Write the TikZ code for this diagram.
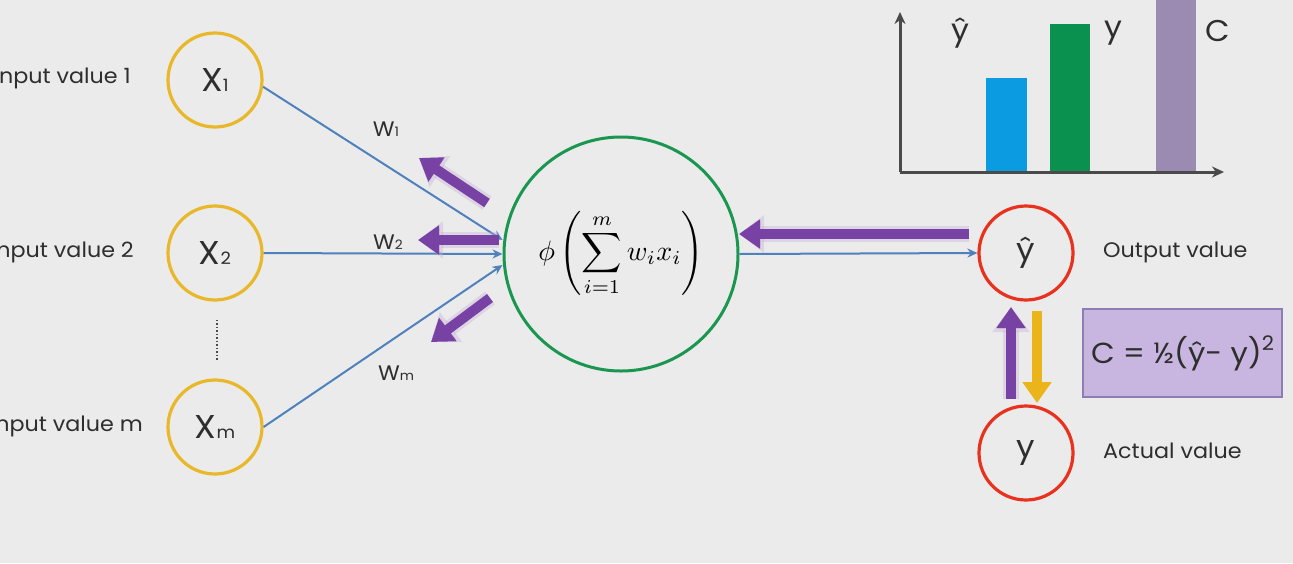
\documentclass[tikz,border=0pt]{standalone}
\usepackage{graphicx}
\usepackage{fontspec}
\setmainfont{Poppins}[FakeStretch=1.06]
\usetikzlibrary{arrows.meta,calc}
\definecolor{bg}{HTML}{EBEBEB}
\definecolor{ycol}{HTML}{E9B82A}
\definecolor{gcol}{HTML}{1A9650}
\definecolor{wblue}{HTML}{4F81BD}
\definecolor{rcol}{HTML}{E8321E}
\definecolor{pcol}{HTML}{7842A4}
\definecolor{yarr}{HTML}{EBB41A}
\definecolor{boxfill}{HTML}{C9B6E0}
\definecolor{boxline}{HTML}{8E7CB6}
\definecolor{axcol}{HTML}{4A4A4A}
\definecolor{txt}{HTML}{2E2E2E}
\definecolor{barblue}{HTML}{0A9BE0}
\definecolor{bargreen}{HTML}{0A9150}
\definecolor{barpurple}{HTML}{9B8BB3}
\newcommand{\smallsub}[1]{{\fontsize{17}{17}\selectfont #1}}
\newcommand{\wsub}[1]{{\fontsize{13}{13}\selectfont #1}}
\begin{document}
\begin{tikzpicture}[x=1pt,y=-1pt,
  incirc/.style={circle, draw=ycol, line width=3.2pt, minimum size=94pt, inner sep=0pt, font=\fontsize{33}{33}\selectfont, text=txt},
  outcirc/.style={circle, draw=rcol, line width=3.2pt, minimum size=94pt, inner sep=0pt, font=\fontsize{31}{31}\selectfont, text=txt},
  lbl/.style={font=\fontsize{21}{24}\selectfont, text=txt, inner sep=0pt},
  wlbl/.style={font=\fontsize{21}{24}\selectfont, text=txt, inner sep=0pt},
  wire/.style={draw=wblue, line width=2pt, -{Stealth[length=10pt,width=9pt]}},
  back/.style={draw=pcol, line width=10pt, -{Triangle[length=21pt,width=28pt]}},
  glow/.style={draw=pcol!45, opacity=0.35, line width=16pt, -{Triangle[length=25pt,width=36pt]}},
  ydown/.style={draw=yarr, line width=10pt, -{Triangle[length=21pt,width=28pt]}},
  axis/.style={draw=axcol, line width=3pt, -{Stealth[length=12pt,width=11pt]}},
  chlbl/.style={font=\fontsize{30}{30}\selectfont, text=txt, inner sep=0pt}
]
\useasboundingbox (0,0) rectangle (1293,563);
\fill[bg] (0,0) rectangle (1293,563);

% input nodes
\node[incirc] (x1) at (215,80) {X\smallsub{1}};
\node[incirc] (x2) at (215,253) {X\smallsub{2}};
\node[incirc] (xm) at (215,427) {X\smallsub{m}};
\coordinate (d1) at ($(x2.south)+(2,18)$);
\coordinate (d2) at ($(xm.north)+(2,-17)$);
\draw[axcol, line width=1.5pt, dotted] (d1) -- (d2);

\node[lbl, anchor=east] (l1) at (131,78) {Input value 1};
\node[lbl, anchor=east] (l2) at (134,252) {Input value 2};
\node[lbl, anchor=east] (lm) at (143,426) {Input value m};

% neuron
\node[circle, draw=gcol, line width=3pt, minimum size=234pt, inner sep=0pt, font=\fontsize{10}{12}\selectfont] (sum) at (621,254)
  {\scalebox{2.8}{$\displaystyle \phi\left(\sum_{i=1}^{m} w_i x_i\right)$}};

% wires
\coordinate (s1) at ([yshift=14pt]sum.west);
\coordinate (s2) at (sum.west);
\coordinate (sm) at ([yshift=-11pt]sum.west);
\draw[wire] (x1.-8) -- (s1);
\draw[wire] (x2.east) -- (s2);
\draw[wire] (xm.east) -- (sm);

\node[wlbl] (w1) at (386,129) {W\wsub{1}};
\node[wlbl] (w2) at (388,242) {W\wsub{2}};
\node[wlbl] (wm) at (396,373) {W\wsub{m}};

% output nodes
\node[outcirc] (yhat) at (1026,253) {ŷ};
\node[outcirc] (yact) at (1026,453) {y};
\draw[wire] (sum.east) -- (yhat.west);

\node[lbl, anchor=west] (ol) at (1103,252) {Output value};
\node[lbl, anchor=west] (al) at (1103,451) {Actual value};

% back-propagation arrows
\coordinate (b1s) at (487,203); \coordinate (b1e) at (419,158);
\coordinate (b2s) at (499,240); \coordinate (b2e) at (418,240);
\coordinate (b3s) at (490,298); \coordinate (b3e) at (431,342);
\coordinate (b4s) at (969,234); \coordinate (b4e) at (739,234);
\coordinate (u1s) at (1011,399); \coordinate (u1e) at (1011,307);
\coordinate (d1s) at (1037,311); \coordinate (d1e) at (1037,403);
\foreach \s/\e in {b1s/b1e,b2s/b2e,b3s/b3e,b4s/b4e,u1s/u1e}{
  \draw[glow] (\s) -- (\e);
}
\draw[back] (b1s) -- (b1e);
\draw[back] (b2s) -- (b2e);
\draw[back] (b3s) -- (b3e);
\draw[back] (b4s) -- (b4e);
\draw[back] (u1s) -- (u1e);
\draw[ydown] (d1s) -- (d1e);

% cost box
\node[draw=boxline, line width=1.2pt, fill=boxfill, minimum width=199pt, minimum height=88pt, inner sep=0pt,
  font=\fontsize{29}{30}\selectfont, text=txt] (cost) at (1182.5,353) {C = ½(ŷ- y)\raisebox{0.45em}{\fontsize{20}{20}\selectfont 2}};

% chart
\fill[barblue] (986,78) rectangle (1027,171);
\fill[bargreen] (1050,24) rectangle (1090,171);
\fill[barpurple] (1156,0) rectangle (1196,171);
\coordinate (org) at (900,172);
\coordinate (ytop) at (900,12);
\coordinate (xend) at (1224,172);
\draw[axis] (org) -- (ytop);
\draw[axis] (org) -- (xend);
\node[chlbl] (cyhat) at (960,33) {ŷ};
\node[chlbl] (cy) at (1113,33) {y};
\node[chlbl] (cc) at (1218,31) {C};
\end{tikzpicture}
\end{document}
